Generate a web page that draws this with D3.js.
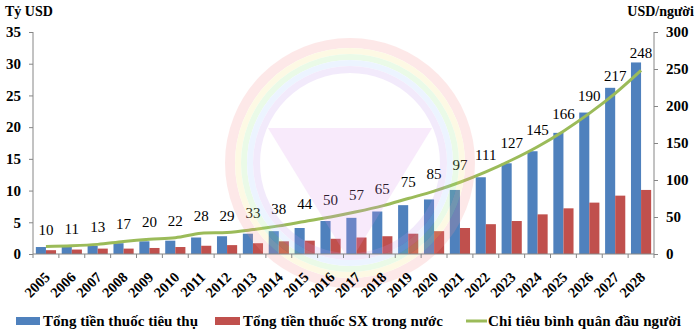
<!DOCTYPE html>
<html><head><meta charset="utf-8">
<script src="https://cdn.jsdelivr.net/npm/d3@7"></script>
</head>
<body style="margin:0;background:#fff"><svg id="c" width="700" height="335"></svg>
<script>
const years = ["2005","2006","2007","2008","2009","2010","2011","2012","2013","2014","2015","2016","2017","2018","2019","2020","2021","2022","2023","2024","2025","2026","2027","2028"];
const totalConsumption = [1.1,1.2,1.3,1.7,2.0,2.1,2.6,2.8,3.2,3.6,4.1,5.2,5.7,6.7,7.7,8.6,10.1,12.1,14.3,16.2,19.1,22.3,26.2,30.2];
const domesticProduction = [0.6,0.7,0.85,0.85,0.95,1.1,1.3,1.4,1.7,2.0,2.1,2.4,2.6,2.8,3.2,3.6,4.1,4.7,5.2,6.25,7.2,8.1,9.2,10.1];
const perCapita = [10,11,13,17,20,22,28,29,33,38,44,50,57,65,75,85,97,111,127,145,166,190,217,248];
const leftTicks = [0,5,10,15,20,25,30,35];
const rightTicks = [0,50,100,150,200,250,300];
const seriesNames = ["Tổng tiền thuốc tiêu thụ","Tổng tiền thuốc SX trong nước","Chi tiêu bình quân đầu người"];
const leftTitle = "Tỷ USD", rightTitle = "USD/người";

const C = {blue:"#4F81BD", red:"#C0504D", green:"#9BBB59", axis:"#868686"};
const FF = "Liberation Serif";
const svg = d3.select("#c");
const L = 33, R = 654, T = 32, B = 254;

const x = d3.scaleBand().domain(years).range([L, R]).padding(0);
const yL = d3.scaleLinear().domain([0,35]).range([B, T]);
const yR = d3.scaleLinear().domain([0,300]).range([B, T]);
const bw = x.bandwidth()*0.39;

// bars
const g = svg.append("g");
g.selectAll("rect.b").data(years).join("rect")
  .attr("x", d => x(d) + x.bandwidth()/2 - bw)
  .attr("y", (d,i) => yL(totalConsumption[i]))
  .attr("width", bw).attr("height", (d,i) => B - yL(totalConsumption[i]))
  .attr("fill", C.blue);
g.selectAll("rect.r").data(years).join("rect")
  .attr("x", d => x(d) + x.bandwidth()/2)
  .attr("y", (d,i) => yL(domesticProduction[i]))
  .attr("width", bw).attr("height", (d,i) => B - yL(domesticProduction[i]))
  .attr("fill", C.red);

// line
const line = d3.line().x((d,i) => x(years[i]) + x.bandwidth()/2).y(d => yR(d)).curve(d3.curveCatmullRom.alpha(0.5));
g.append("path").datum(perCapita).attr("d", line).attr("fill","none").attr("stroke", C.green).attr("stroke-width", 3);

// value labels
g.selectAll("text.v").data(perCapita).join("text")
  .attr("x", (d,i) => x(years[i]) + x.bandwidth()/2)
  .attr("y", d => yR(d) - 12)
  .attr("text-anchor","middle").attr("font-size", 15).attr("fill","#000")
  .attr("font-family", FF)
  .text(d => d);

// watermark
const wm = svg.append("g").attr("opacity", 0.2).style("pointer-events","none");
const cx = 350, cy = 163;
wm.append("path").attr("d", `M268,128 L432,128 L350,262 Z`).attr("fill", "#de98ee");
const rings = [["#f89191",125,10],["#f8e67e",115,6],["#98e88a",109,6],["#a5cdff",103,6],["#c098ee",97,7]];
rings.forEach(([col, r, w]) => {
  wm.append("circle").attr("cx",cx).attr("cy",cy).attr("r", r - w/2).attr("fill","none").attr("stroke",col).attr("stroke-width", w);
});

// axes
const axL = svg.append("g").attr("transform",`translate(${L},0)`).call(d3.axisLeft(yL).tickValues(leftTicks).tickSize(4).tickPadding(8));
const axR = svg.append("g").attr("transform",`translate(${R},0)`).call(d3.axisRight(yR).tickValues(rightTicks).tickSize(4).tickPadding(8));
[axL, axR].forEach(a => {
  a.attr("font-family", FF);
  a.select(".domain").attr("stroke", C.axis).attr("d", `M0,${T}V${B}`);
  a.selectAll(".tick line").attr("stroke", C.axis);
  a.selectAll(".tick text").attr("font-family", FF).attr("font-size", 15).attr("font-weight","bold").attr("fill","#000");
});
// x axis
const xb = svg.append("g");
xb.append("line").attr("x1",L).attr("x2",R).attr("y1",B).attr("y2",B).attr("stroke",C.axis);
xb.selectAll("line.t").data(years.concat(["end"])).join("line")
  .attr("x1",(d,i) => L + i*x.bandwidth()).attr("x2",(d,i) => L + i*x.bandwidth())
  .attr("y1",B).attr("y2",B+4).attr("stroke",C.axis);
xb.selectAll("text").data(years).join("text")
  .attr("transform", d => `translate(${x(d)+x.bandwidth()/2+5},278) rotate(-45)`)
  .attr("text-anchor","end").attr("font-family", FF).attr("font-size",14.5).attr("font-weight","bold").attr("fill","#000")
  .text(d => d);

// titles
svg.append("text").attr("x",5).attr("y",16).attr("font-family", FF).attr("font-size",14).attr("font-weight","bold").text(leftTitle);
svg.append("text").attr("x",694).attr("y",16).attr("text-anchor","end").attr("font-family", FF).attr("font-size",14).attr("font-weight","bold").text(rightTitle);

// legend
const lg = svg.append("g");
const lt = (xx, s, len) => lg.append("text").attr("x",xx).attr("y",326).attr("font-family", FF).attr("font-size",15).attr("font-weight","bold").attr("fill","#000")
  .attr("textLength", len).attr("lengthAdjust","spacing").text(s);
lg.append("rect").attr("x",16).attr("y",317).attr("width",24).attr("height",8).attr("fill",C.blue);
lt(43, seriesNames[0], 155);
lg.append("rect").attr("x",215).attr("y",317).attr("width",25).attr("height",8).attr("fill",C.red);
lt(243, seriesNames[1], 200);
lg.append("line").attr("x1",466).attr("x2",487).attr("y1",321).attr("y2",321).attr("stroke",C.green).attr("stroke-width",3);
lt(488, seriesNames[2], 193);
</script></body></html>
